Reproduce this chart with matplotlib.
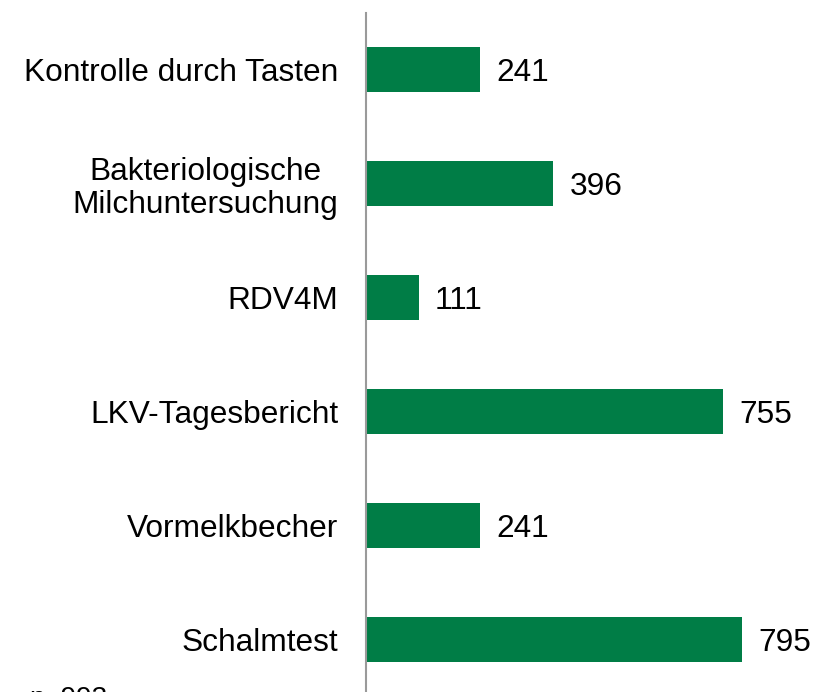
import matplotlib
matplotlib.use("Agg")
import matplotlib.pyplot as plt

categories = ["Kontrolle durch Tasten", "Bakteriologische\nMilchuntersuchung", "RDV4M",
              "LKV-Tagesbericht", "Vormelkbecher", "Schalmtest"]
values = [241, 396, 111, 755, 241, 795]
note = "n=993"

plt.rcParams['font.family'] = ['Liberation Sans', 'DejaVu Sans']

fig = plt.figure(figsize=(8.15, 6.92), dpi=100)
ax = fig.add_axes([366/815, -4.5/692, 1 - 366/815, 684/692])
ypos = list(range(len(categories)))
ax.barh(ypos, values, height=0.395, color="#007D46")
ax.set_ylim(len(categories) - 0.5, -0.5)
ax.set_xlim(0, 949)
ax.set_yticks(ypos)
ax.set_yticklabels(categories, fontsize=22.8, linespacing=1.15)
for lbl in ax.get_yticklabels():
    lbl.set_multialignment('center')
    lbl.set_verticalalignment('center_baseline')
ax.tick_params(axis='y', length=0, pad=20)
ax.tick_params(axis='x', bottom=False, labelbottom=False)
for s in ['top', 'right', 'bottom']:
    ax.spines[s].set_visible(False)
ax.spines['left'].set_color('#9A9A9A')
ax.spines['left'].set_linewidth(1.5)
for y, v in zip(ypos, values):
    ax.text(v + 34, y, str(v), va='center_baseline', ha='left', fontsize=22.8)
fig.text(29/815, -14/692, note, fontsize=20, ha='left', va='baseline')
fig.savefig("out.png", dpi=100)
